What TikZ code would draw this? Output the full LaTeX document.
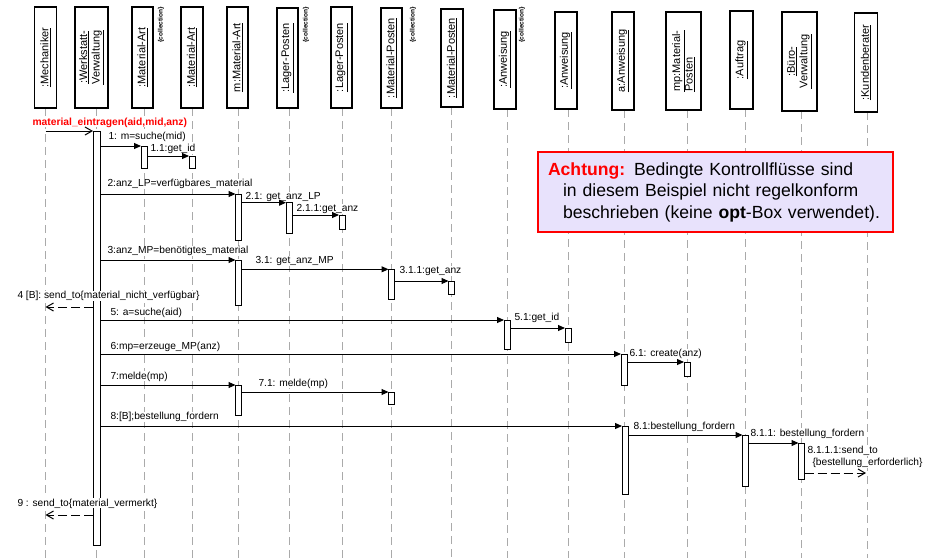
\documentclass[tikz,border=0pt]{standalone}
\usepackage{fontspec}
\setmainfont{Liberation Sans}
\usetikzlibrary{arrows.meta}
\definecolor{notefill}{RGB}{232,226,252}
\definecolor{lifegray}{RGB}{170,170,170}
\definecolor{alertred}{RGB}{255,0,0}
\begin{document}
\begin{tikzpicture}[x=1pt,y=-1pt,
  head/.style={draw, line width=1.3pt, fill=white, rotate=90, inner sep=0pt, outer sep=0pt,
    font=\fontsize{11}{12.5}\selectfont, align=center},
  coll/.style={rotate=90, anchor=east, inner sep=0pt, font=\fontsize{6.5}{7}\selectfont\bfseries},
  lifeline/.style={draw=lifegray, line width=1pt, dash pattern=on 8pt off 5pt},
  actbar/.style={draw, line width=1pt, fill=white, anchor=north, inner sep=0pt, outer sep=0pt, minimum width=6pt},
  msglabel/.style={anchor=base west, inner sep=0.3pt, fill=white, font=\fontsize{10.2}{12}\selectfont},
  sync/.style={draw, line width=1pt, -{Triangle[length=7pt,width=6pt]}},
  callin/.style={draw, line width=1pt, -{Straight Barb[length=7pt,width=8pt]}},
  retmsg/.style={draw, line width=1pt, dash pattern=on 9pt off 4pt, -{Straight Barb[length=7pt,width=8pt]}},
  notebox/.style={draw=alertred, line width=1.5pt, fill=notefill, text width=335pt, inner xsep=10pt,
    inner ysep=0pt, minimum height=80pt, align=left, font=\fontsize{17.6}{21.5}\selectfont}
]
\useasboundingbox (0,0) rectangle (937,558);

% lifelines
\foreach \lx/\ly in {45.5/108, 96.5/108, 144/108, 192/108, 238.5/108, 289/108, 342/108, 391.5/108,
  451.5/107, 507/109, 568/109, 624/110, 687/110, 745.5/109, 801.5/111, 867/112}
  \draw[lifeline] (\lx,\ly) -- (\lx,558);

% heads
\node[head, minimum width=101pt, minimum height=22pt] (mech) at (45.5,57.5) {\underline{:Mechaniker}};
\node[head, minimum width=101pt, minimum height=33pt] (werk) at (91.5,57.5) {\underline{:Werkstatt-}\\\underline{Verwaltung}};
\node[head, minimum width=101pt, minimum height=21pt] (matartC) at (142.5,57.5) {\underline{:Material-Art}};
\node[head, minimum width=101pt, minimum height=22pt] (matart) at (192,57.5) {\underline{:Material-Art}};
\node[head, minimum width=101pt, minimum height=21pt] (mmatart) at (237.5,57.5) {\underline{m:Material-Art}};
\node[head, minimum width=100pt, minimum height=21pt] (lagerC) at (287.5,58) {\underline{:Lager-Posten}};
\node[head, minimum width=101pt, minimum height=21pt] (lager) at (341.5,57.5) {\underline{:Lager-Posten}};
\node[head, minimum width=100pt, minimum height=21pt] (matposC) at (391.5,58) {\underline{:Material-Posten}};
\node[head, minimum width=98pt, minimum height=22pt] (matpos) at (452,58) {\underline{:Material-Posten}};
\node[head, minimum width=99pt, minimum height=22pt] (anwC) at (505,59.5) {\underline{:Anweisung}};
\node[head, minimum width=97pt, minimum height=22pt] (anw) at (566,60.5) {\underline{:Anweisung}};
\node[head, minimum width=98pt, minimum height=22pt] (aanw) at (623,61) {\underline{a:Anweisung}};
\node[head, minimum width=98pt, minimum height=35pt, align=left] (mp) at (683.5,61) {\underline{mp:Material-}\\\underline{Posten}};
\node[head, minimum width=98pt, minimum height=23pt] (auftrag) at (741.5,60) {\underline{:Auftrag}};
\node[head, minimum width=99pt, minimum height=35pt] (buero) at (799.5,61.5) {\underline{:Büro-}\\\underline{Verwaltung}};
\node[head, minimum width=99pt, minimum height=23pt] (kunde) at (866,62.5) {\underline{:Kundenberater}};

% collection marks
\node[coll] (cMA) at (161,7) {\{collection\}};
\node[coll] (cLP) at (306,7) {\{collection\}};
\node[coll] (cMP) at (413,7) {\{collection\}};
\node[coll] (cAW) at (522,7) {\{collection\}};

% activation bars
\node[actbar, minimum width=7pt, minimum height=414pt] (bw) at (96.5,131) {};
\node[actbar, minimum height=22pt] (b1) at (144,146) {};
\node[actbar, minimum height=12pt] (b11) at (192,156) {};
\node[actbar, minimum height=46pt] (b2) at (238.5,194) {};
\node[actbar, minimum height=30.5pt] (b21) at (289,202.7) {};
\node[actbar, minimum height=14pt] (b211) at (342,215) {};
\node[actbar, minimum height=45pt] (b3) at (238.5,260) {};
\node[actbar, minimum height=30pt] (b31) at (391.5,269.3) {};
\node[actbar, minimum height=13pt] (b311) at (451.5,281) {};
\node[actbar, minimum height=29pt] (b5) at (507,320) {};
\node[actbar, minimum height=14pt] (b51) at (568,328) {};
\node[actbar, minimum height=31pt] (b6) at (624,354) {};
\node[actbar, minimum height=14pt] (b61) at (687,362) {};
\node[actbar, minimum height=30pt] (b7) at (238.5,385) {};
\node[actbar, minimum height=12pt] (b71) at (391.5,392) {};
\node[actbar, minimum height=68pt] (b8) at (625,426) {};
\node[actbar, minimum height=51pt] (b81) at (745.5,435) {};
\node[actbar, minimum height=36pt] (b811) at (801.5,443) {};

% labels
\node[msglabel, font=\fontsize{10.3}{12}\selectfont\bfseries, text=alertred] (l0) at (32,125) {material\_eintragen(aid,mid,anz)};
\node[msglabel] (l1) at (108,139.5) {1: m=suche(mid)};
\node[msglabel] (l11) at (150,151.3) {1.1:get\_id};
\node[msglabel] (l2) at (107,186.5) {2:anz\_LP=verfügbares\_material};
\node[msglabel] (l21) at (245,199.5) {2.1: get\_anz\_LP};
\node[msglabel] (l211) at (296,211.7) {2.1.1:get\_anz};
\node[msglabel] (l3) at (107,253.3) {3:anz\_MP=benötigtes\_material};
\node[msglabel] (l31) at (255,263.3) {3.1: get\_anz\_MP};
\node[msglabel] (l311) at (399,273.3) {3.1.1:get\_anz};
\node[msglabel] (l4) at (17,298.3) {4 [B]: send\_to\{material\_nicht\_verfügbar\}};
\node[msglabel] (l5) at (110,315) {5: a=suche(aid)};
\node[msglabel] (l51) at (514,320.7) {5.1:get\_id};
\node[msglabel] (l6) at (110,349) {6:mp=erzeuge\_MP(anz)};
\node[msglabel] (l61) at (629,356.7) {6.1: create(anz)};
\node[msglabel] (l7) at (110,379) {7:melde(mp)};
\node[msglabel] (l71) at (258,386) {7.1: melde(mp)};
\node[msglabel] (l8) at (110,419.3) {8:[B];bestellung\_fordern};
\node[msglabel] (l81) at (633,429.3) {8.1:bestellung\_fordern};
\node[msglabel] (l811) at (750,436) {8.1.1: bestellung\_fordern};
\node[msglabel] (l8111a) at (807,453.3) {8.1.1.1:send\_to};
\node[msglabel] (l8111b) at (812,465.3) {\{bestellung\_erforderlich\}};
\node[msglabel] (l9) at (17,506) {9 : send\_to\{material\_vermerkt\}};

% messages
\coordinate (y4) at (0,307);
\coordinate (y9) at (0,515);
\coordinate (y8111) at (0,473);
\draw[callin] (mech.west |- bw.north) -- (bw.north west);
\draw[sync] (bw.east |- b1.north) -- (b1.north west);
\draw[sync] (b1.east |- b11.north) -- (b11.north west);
\draw[sync] (bw.east |- b2.north) -- (b2.north west);
\draw[sync] (b2.east |- b21.north) -- (b21.north west);
\draw[sync] (b21.east |- b211.north) -- (b211.north west);
\draw[sync] (bw.east |- b3.north) -- (b3.north west);
\draw[sync] (b3.east |- b31.north) -- (b31.north west);
\draw[sync] (b31.east |- b311.north) -- (b311.north west);
\draw[retmsg] (bw.west |- y4) -- (mech.west |- y4);
\draw[sync] (bw.east |- b5.north) -- (b5.north west);
\draw[sync] (b5.east |- b51.north) -- (b51.north west);
\draw[sync] (bw.east |- b6.north) -- (b6.north west);
\draw[sync] (b6.east |- b61.north) -- (b61.north west);
\draw[sync] (bw.east |- b7.north) -- (b7.north west);
\draw[sync] (b7.east |- b71.north) -- (b71.north west);
\draw[sync] (bw.east |- b8.north) -- (b8.north west);
\draw[sync] (b8.east |- b81.north) -- (b81.north west);
\draw[sync] (b81.east |- b811.north) -- (b811.north west);
\draw[retmsg] (b811.east |- y8111) -- (kunde.west |- y8111);
\draw[retmsg] (bw.west |- y9) -- (mech.west |- y9);

% note
\node[notebox] (note) at (715.5,192) {\textcolor{alertred}{\textbf{Achtung:}} Bedingte Kontrollflüsse sind\\
\hspace*{15pt}in diesem Beispiel nicht regelkonform\\
\hspace*{15pt}beschrieben (keine \textbf{opt}-Box verwendet).};
\end{tikzpicture}
\end{document}
